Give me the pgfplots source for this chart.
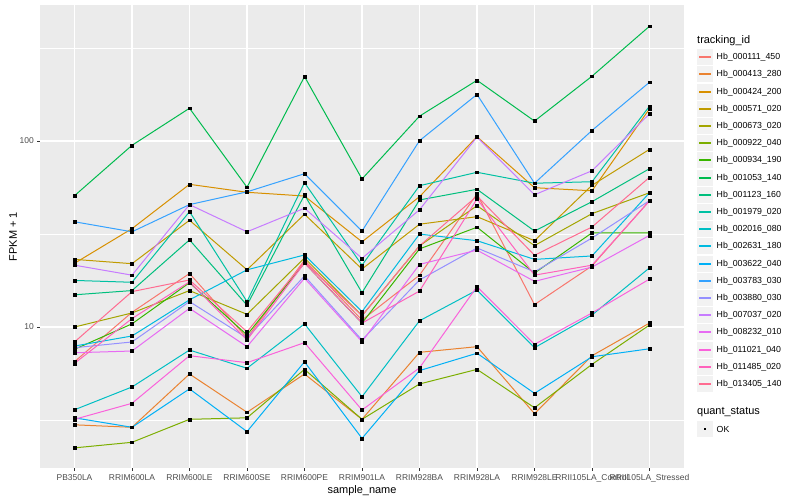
\documentclass[border=0pt]{standalone}
\usepackage{fontspec}
\setmainfont{Liberation Sans}
\usepackage{pgfplots}
\usepackage{pgfplotstable}
\pgfplotsset{compat=1.18}

\definecolor{panelbg}{HTML}{EBEBEB}
\definecolor{keybg}{HTML}{F2F2F2}
\definecolor{labgray}{HTML}{4D4D4D}
\definecolor{tickgray}{HTML}{333333}
\definecolor{c1}{HTML}{F8766D}
\definecolor{c2}{HTML}{EA8331}
\definecolor{c3}{HTML}{D89000}
\definecolor{c4}{HTML}{C09B00}
\definecolor{c5}{HTML}{A3A500}
\definecolor{c6}{HTML}{7CAE00}
\definecolor{c7}{HTML}{39B600}
\definecolor{c8}{HTML}{00BB4E}
\definecolor{c9}{HTML}{00BF7D}
\definecolor{c10}{HTML}{00C1A3}
\definecolor{c11}{HTML}{00BFC4}
\definecolor{c12}{HTML}{00BAE0}
\definecolor{c13}{HTML}{00B0F6}
\definecolor{c14}{HTML}{35A2FF}
\definecolor{c15}{HTML}{9590FF}
\definecolor{c16}{HTML}{C77CFF}
\definecolor{c17}{HTML}{E76BF3}
\definecolor{c18}{HTML}{FA62DB}
\definecolor{c19}{HTML}{FF62BC}
\definecolor{c20}{HTML}{FF6C91}

% FPKM + 1 per sample (rows) and tracking_id (columns s1..s20, legend order)
\pgfplotstableread{
x  s1   s2   s3    s4   s5   s6    s7   s8   s9   s10  s11  s12  s13  s14   s15  s16  s17  s18  s19  s20
0  6.51 2.98 22.0  23.1 10.0 2.24  7.59 50.8 14.9 17.8 3.59 7.90 3.25 36.8  7.74 21.5 7.27 3.19 6.38 8.31
1  12.0 2.89 33.8  21.9 11.9 2.40  10.4 94.8 15.7 17.4 4.76 8.95 2.89 32.5  8.31 19.0 7.43 3.89 11.1 15.5
2  19.4 5.59 58.5  37.5 15.7 3.19  17.3 150  29.4 41.7 7.52 14.0 4.65 45.5  13.7 45.5 12.6 7.01 17.5 17.9
3  8.73 3.48 53.0  20.3 11.7 3.25  9.06 56.4 13.1 13.7 6.00 20.3 2.74 53.3  8.73 32.5 7.84 6.43 8.51 9.43
4  22.9 5.59 50.6  40.4 23.5 5.92  22.1 222  51.3 59.7 10.4 24.4 6.50 66.7  18.8 43.5 18.3 8.24 22.1 22.4
5  10.9 3.19 28.7  20.5 11.5 3.19  10.5 62.5 15.3 21.5 4.22 12.1 2.52 32.8  8.51 23.4 8.34 3.58 10.5 11.5
6  19.0 7.31 50.2  35.7 27.3 4.94  26.3 136  48.2 57.5 10.8 31.6 5.83 100.4 17.9 42.7 21.7 6.03 15.6 27.3
7  51.9 7.84 105.5 39.2 44.9 5.92  34.4 212  55.0 67.9 15.8 29.1 7.23 178   26.6 105  25.9 16.5 48.8 50.6
8  13.2 3.42 56.1  29.1 27.4 3.68  19.5 128  32.8 59.3 7.74 23.1 4.40 59.3  19.8 51.4 17.6 8.07 19.0 24.3
9  21.3 7.01 54.0  57.8 40.7 6.30  32.1 223  47.2 60.4 11.6 24.1 6.92 114   30.1 69.2 21.0 11.9 21.5 34.5
10 47.8 10.5 149   90.2 52.7 10.25 32.1 414  71.0 154  20.8 52.7 7.64 207   47.8 140  31.1 18.1 47.6 63.8
}\fpkm

\begin{document}
\begin{tikzpicture}
\path[use as bounding box] (0bp,0bp) rectangle (800bp,500bp);
\begin{axis}[
    at={(40bp,32bp)}, anchor=south west,
    width=644bp, height=463bp, scale only axis,
    axis background/.style={fill=panelbg},
    axis line style={draw=none},
    xmin=-0.6, xmax=10.6,
    ymode=log, ymin=1.746, ymax=538.5,
    xtick={0,...,10},
    xticklabels={PB350LA, RRIM600LA, RRIM600LE, RRIM600SE, RRIM600PE, RRIM901LA,
        RRIM928BA, RRIM928LA, RRIM928LE, RRII105LA\_Control, RRII105LA\_Stressed},
    ytick={10,100}, yticklabels={10,100},
    minor ytick={3.1623,31.623,316.23},
    grid=both,
    major grid style={white, line width=1.1bp},
    minor grid style={white, line width=0.55bp},
    tick pos=left, tick align=outside,
    major tick length=2.7bp, minor tick length=0pt,
    tick style={draw=tickgray, line width=0.5bp},
    ticklabel style={font=\fontsize{8.5}{10}\selectfont, text=labgray},
    xlabel={sample\_name}, ylabel={FPKM + 1},
    label style={font=\fontsize{11}{13}\selectfont},
    xlabel style={yshift=3bp},
    ylabel style={yshift=-4bp},
    clip=false,
]
\pgfplotsinvokeforeach{1,...,20}{
    \addplot[c#1, line width=1bp, mark=none] table[x=x, y=s#1] {\fpkm};
}
\pgfplotsinvokeforeach{1,...,20}{
    \addplot[only marks, mark=square*, mark size=1.4bp, black] table[x=x, y=s#1] {\fpkm};
}
\end{axis}

% legend
\node[anchor=west, inner sep=0pt, font=\fontsize{11}{13}\selectfont] at (697bp,459.3bp) {tracking\_id};
\foreach \n/\name in {1/Hb\_000111\_450, 2/Hb\_000413\_280, 3/Hb\_000424\_200, 4/Hb\_000571\_020,
    5/Hb\_000673\_020, 6/Hb\_000922\_040, 7/Hb\_000934\_190, 8/Hb\_001053\_140, 9/Hb\_001123\_160,
    10/Hb\_001979\_020, 11/Hb\_002016\_080, 12/Hb\_002631\_180, 13/Hb\_003622\_040, 14/Hb\_003783\_030,
    15/Hb\_003880\_030, 16/Hb\_007037\_020, 17/Hb\_008232\_010, 18/Hb\_011021\_040, 19/Hb\_011485\_020,
    20/Hb\_013405\_140} {
  \pgfmathsetmacro\yy{round(442.7-17.2*(\n-1))}
  \fill[keybg] (697.3bp,{\yy bp-8bp}) rectangle (712.7bp,{\yy bp+8bp});
  \fill[color=c\n] (698.8bp,{\yy bp-0.8bp}) rectangle (711.2bp,{\yy bp+0.8bp});
  \node[anchor=west, inner sep=0pt, font=\fontsize{8.8}{10}\selectfont] at (716.5bp,\yy bp) {\name};
}
\node[anchor=west, inner sep=0pt, font=\fontsize{11}{13}\selectfont] at (697bp,88.3bp) {quant\_status};
\fill[keybg] (697.3bp,63bp) rectangle (712.7bp,79bp);
\fill[black] (703.6bp,69.6bp) rectangle (706.4bp,72.4bp);
\node[anchor=west, inner sep=0pt, font=\fontsize{8.8}{10}\selectfont] at (716.5bp,71bp) {OK};
\end{tikzpicture}
\end{document}
